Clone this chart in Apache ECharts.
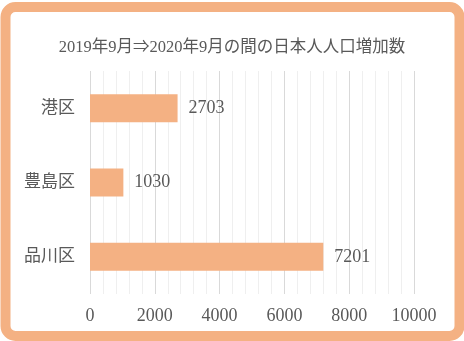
<!DOCTYPE html>
<html>
<head>
<meta charset="utf-8">
<style>
  html, body { margin: 0; padding: 0; background: #fff; }
  #chart { width: 464px; height: 341px; }
</style>
<script src="https://cdn.jsdelivr.net/npm/echarts@6/dist/echarts.min.js"></script>
</head>
<body>
<div id="chart"></div>
<script>
// Wards, listed bottom to top as the category axis draws them
const wards = ['品川区', '豊島区', '港区'];
// Increase in Japanese residents, Sept 2019 → Sept 2020
const increase = [7201, 1030, 2703];
const titleText = '2019年9月⇒2020年9月の間の日本人人口増加数';

const FONT = "'Liberation Serif', 'Noto Sans CJK JP', serif";
const TEXT = '#595959';
const ORANGE = '#F4B183';

const chart = echarts.init(document.getElementById('chart'), null, { renderer: 'canvas' });
chart.setOption({
  backgroundColor: '#fff',
  animation: false,
  title: {
    text: titleText,
    left: 'center',
    top: 34,
    textStyle: { fontFamily: FONT, fontSize: 16.5, fontWeight: 'normal', color: TEXT }
  },
  graphic: [{
    type: 'rect',
    shape: { x: 5.5, y: 7, width: 454, height: 329, r: 10 },
    style: { fill: 'none', stroke: ORANGE, lineWidth: 10 },
    z: 100
  }],
  grid: { left: 90, right: 50, top: 71, bottom: 47, containLabel: false },
  xAxis: {
    type: 'value',
    min: 0,
    max: 10000,
    interval: 2000,
    axisLine: { show: false },
    axisTick: { show: false },
    axisLabel: {
      fontFamily: FONT, fontSize: 18, color: TEXT, margin: 13,
      formatter: v => String(v)
    },
    splitLine: { show: true, lineStyle: { color: '#d9d9d9', width: 1 } },
    minorTick: { show: false, splitNumber: 5 },
    minorSplitLine: { show: true, lineStyle: { color: '#efefef', width: 1 } }
  },
  yAxis: {
    type: 'category',
    data: wards,
    axisLine: { show: false },
    axisTick: { show: false },
    axisLabel: { fontFamily: FONT, fontSize: 17, color: TEXT, margin: 15 }
  },
  series: [{
    type: 'bar',
    data: increase,
    barWidth: 28,
    itemStyle: { color: ORANGE },
    label: {
      show: true,
      position: 'right',
      distance: 11,
      fontFamily: FONT,
      fontSize: 18,
      color: TEXT
    }
  }]
});
</script>
</body>
</html>
